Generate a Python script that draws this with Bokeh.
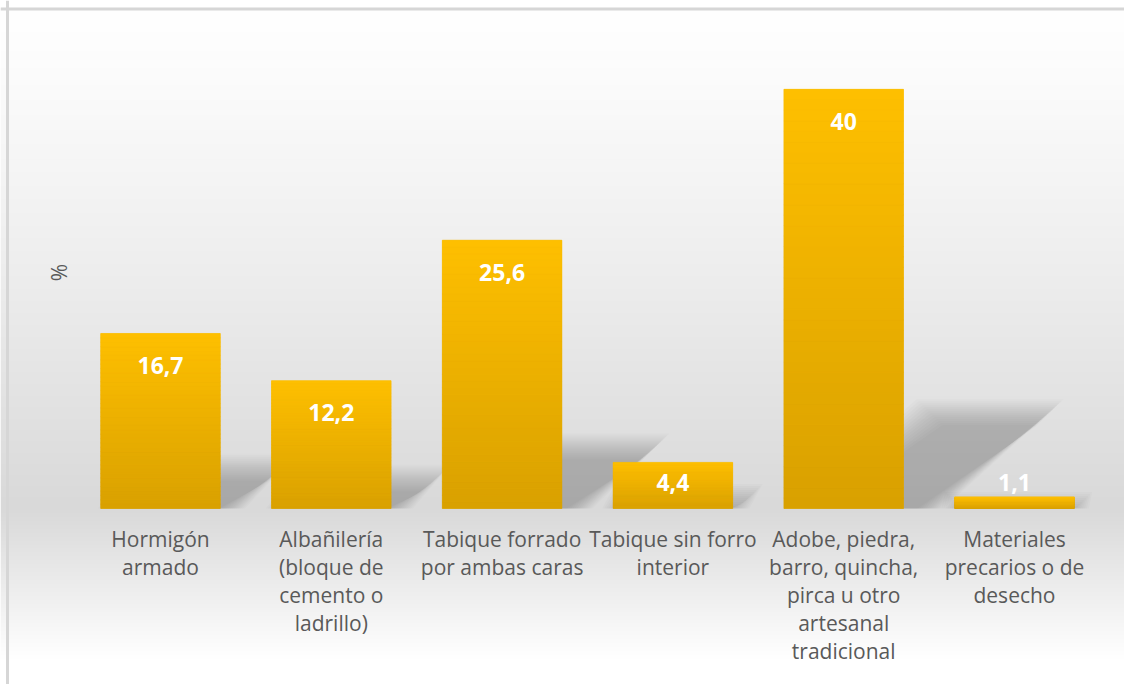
import numpy as np
from bokeh.plotting import figure
from bokeh.models import Range1d, Span
from bokeh.core.properties import value
from bokeh.embed import file_html
from bokeh.resources import INLINE

# ---------------- data ----------------
categories = [
    "Hormigón\narmado",
    "Albañilería\n(bloque de\ncemento o\nladrillo)",
    "Tabique forrado\npor ambas caras",
    "Tabique sin forro\ninterior",
    "Adobe, piedra,\nbarro, quincha,\npirca u otro\nartesanal\ntradicional",
    "Materiales\nprecarios o de\ndesecho",
]
values = [16.7, 12.2, 25.6, 4.4, 40.0, 1.1]
value_labels = ["16,7", "12,2", "25,6", "4,4", "40", "1,1"]
y_title = "%"

# ---------------- geometry ----------------
W, H = 1124, 684
PPX, PPY = 170.8, 10.48          # pixels per unit
FIRST_CX, BASE_PY = 160.0, 508.0  # page px of first category centre / baseline
X0 = -FIRST_CX / PPX
X1 = (W - FIRST_CX) / PPX
Y1 = BASE_PY / PPY
Y0 = -(H - BASE_PY) / PPY
BAR_W = 0.70

def px_x(px):
    return X0 + px / PPX

def px_y(py):
    return (BASE_PY - py) / PPY

p = figure(width=W, height=H, x_range=Range1d(X0, X1), y_range=Range1d(Y0, Y1),
           output_backend="svg", toolbar_location=None, min_border=0)
p.axis.visible = False
p.grid.visible = False
p.outline_line_color = None
p.background_fill_color = "white"
p.border_fill_color = "white"

# ---------------- background gradient ----------------
rows = np.arange(H)
page_y = H - rows - 0.5          # row 0 is at the bottom
top_py = 8.0
g = np.where(page_y <= BASE_PY,
             255 - 38 * np.clip((page_y - top_py) / (BASE_PY - top_py), 0, 1) ** 1.2,
             217 + 38 * np.clip((page_y - BASE_PY) / 150.0, 0, 1))
img = np.empty((H, 2), dtype=np.uint32)
view = img.view(dtype=np.uint8).reshape((H, 2, 4))
gi = g.astype(np.uint8)
for c in range(3):
    view[:, :, c] = gi[:, None]
view[:, :, 3] = 255
p.image_rgba(image=[img], x=X0, y=Y0, dw=X1 - X0, dh=Y1 - Y0)

# ---------------- shadows (soft, skewed) ----------------
xs_idx = list(range(len(categories)))
for e_px in np.linspace(14, -12, 14):
    sx, sy = [], []
    for i, v in zip(xs_idx, values):
        h = v * PPY
        rise = 0.227 * h + e_px
        if rise <= 2:
            continue
        off = 0.062 * h
        sh = 0.287 * h
        L = i - BAR_W / 2
        R = i + BAR_W / 2
        bl = L + (off - e_px) / PPX
        br = R + (off + e_px) / PPX
        tr = R + (off + sh + e_px) / PPX
        tl = L + (off + sh - e_px) / PPX
        if tl >= tr:
            continue
        sx.append([bl, br, tr, tl])
        sy.append([0, 0, rise / PPY, rise / PPY])
    if sx:
        p.patches(xs=sx, ys=sy, fill_color="black", fill_alpha=0.017, line_color=None)

# ---------------- bars with vertical gradient ----------------
top_c = np.array([255, 192, 0])
bot_c = np.array([217, 161, 0])
p.vbar(x=xs_idx, top=values, bottom=0, width=BAR_W,
       fill_color="#ecb200", line_color=None)
N = 40
for k in range(N):
    t = (k + 0.5) / N
    col = (bot_c + (top_c - bot_c) * t).astype(int)
    hexc = "#%02x%02x%02x" % tuple(col)
    p.vbar(x=xs_idx, bottom=[v * k / N for v in values],
           top=[v * (k + 1) / N for v in values], width=BAR_W,
           fill_color=hexc, line_color=hexc, line_width=0.6)

# ---------------- value labels ----------------
lab_y = [max(v - 32 / PPY, 26 / PPY) for v in values]
p.text(x=xs_idx, y=lab_y, text=value_labels, text_color="white",
       text_font=value("Open Sans"), text_font_style="bold",
       text_font_size="23px", text_align="center", text_baseline="middle")

# ---------------- category labels ----------------
cat_y = [px_y(524)] * len(categories)
p.text(x=xs_idx, y=cat_y, text=categories, text_color="#595959",
       text_font=value("Open Sans"), text_font_size="21px",
       text_align="center", text_baseline="top", text_line_height=1.0)

# ---------------- y title ----------------
p.text(x=[px_x(58)], y=[px_y(272)], text=[y_title],
       text_color="#595959", text_font=value("Open Sans"), text_font_size="21px",
       angle=np.pi / 2, text_align="center", text_baseline="middle")

# ---------------- chart border (top / left) ----------------
p.add_layout(Span(location=px_y(8.5), dimension="width", line_color="#d6d6d6", line_width=3))
p.add_layout(Span(location=px_x(7), dimension="height", line_color="#d6d6d6", line_width=3))

open("out.html", "w").write(file_html(p, INLINE))
